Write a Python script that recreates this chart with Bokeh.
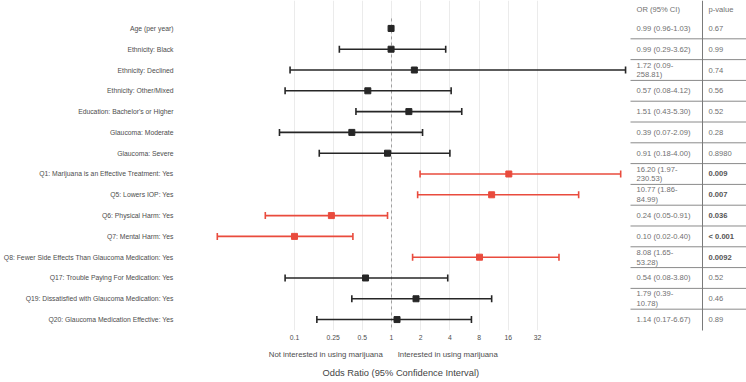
import math
from bokeh.plotting import figure
from bokeh.models import (Range1d, FixedTicker, CustomJSTickFormatter, LogAxis, Title,
                          ColumnDataSource, LinearScale)
from bokeh.core.properties import value
from bokeh.embed import file_html
from bokeh.resources import INLINE

# ---------------- data ----------------
labels = [
    "Age (per year)",
    "Ethnicity: Black",
    "Ethnicity: Declined",
    "Ethnicity: Other/Mixed",
    "Education: Bachelor's or Higher",
    "Glaucoma: Moderate",
    "Glaucoma: Severe",
    "Q1: Marijuana is an Effective Treatment: Yes",
    "Q5: Lowers IOP: Yes",
    "Q6: Physical Harm: Yes",
    "Q7: Mental Harm: Yes",
    "Q8: Fewer Side Effects Than Glaucoma Medication: Yes",
    "Q17: Trouble Paying For Medication: Yes",
    "Q19: Dissatisfied with Glaucoma Medication: Yes",
    "Q20: Glaucoma Medication Effective: Yes",
]
odds_ratio = [0.99, 0.99, 1.72, 0.57, 1.51, 0.39, 0.91, 16.20, 10.77, 0.24, 0.10, 8.08, 0.54, 1.79, 1.14]
ci_lower = [0.96, 0.29, 0.09, 0.08, 0.43, 0.07, 0.18, 1.97, 1.86, 0.05, 0.016, 1.65, 0.08, 0.39, 0.17]
ci_upper = [1.03, 3.62, 258.81, 4.12, 5.30, 2.09, 4.00, 230.53, 84.99, 0.91, 0.40, 53.28, 3.80, 10.78, 6.67]
p_values = ["0.67", "0.99", "0.74", "0.56", "0.52", "0.28", "0.8980", "0.009", "0.007",
            "0.036", "< 0.001", "0.0092", "0.52", "0.46", "0.89"]
x_ticks = [0.1, 0.25, 0.5, 1, 2, 4, 8, 16, 32]
direction_labels = ["Not interested in using marijuana", "Interested in using marijuana"]
direction_pos = [0.21, 3.8]
x_title = "Odds Ratio (95% Confidence Interval)"
table_headers = ["OR (95% CI)", "p-value"]

# ---------------- layout / style ----------------
W, H = 746, 382
FRAME_LEFT = 180          # px left of plotting frame (row labels)
FRAME_BOTTOM = 51         # px below frame (axes + title)
FOREST_RIGHT = 628        # px where the table block starts
ROW_PX = 20.86
FIRST_ROW_OFFSET = 28     # px from frame top to first row
PX_PER_DOUBLING = 29.2
ONE_OFFSET = 211          # px from frame left to OR = 1
TITLE_OFFSET = 142
RED = "#E94B3D"
BLACK = "#262626"
TXT = "#4d4d4d"
TBL_TXT = "#707070"
FONT = "Liberation Sans"

n = len(labels)
ys = [n - 1 - i for i in range(n)]
sig = [p.startswith("<") or float(p) < 0.05 for p in p_values]
colors = [RED if s else BLACK for s in sig]

frame_h = H - FRAME_BOTTOM
frame_w = W - FRAME_LEFT
y_top = (n - 1) + FIRST_ROW_OFFSET / ROW_PX
y_bot = y_top - frame_h / ROW_PX
x_lo = 2 ** (-ONE_OFFSET / PX_PER_DOUBLING)
x_hi = 2 ** ((frame_w - ONE_OFFSET) / PX_PER_DOUBLING)
tbl_w = W - FOREST_RIGHT

p = figure(width=W, height=H, x_axis_type="log",
           x_range=Range1d(x_lo, x_hi), y_range=Range1d(y_bot, y_top),
           extra_x_ranges={"tbl": Range1d(-(FOREST_RIGHT - FRAME_LEFT), tbl_w)},
           extra_x_scales={"tbl": LinearScale()},
           output_backend="svg", toolbar_location=None,
           min_border_left=FRAME_LEFT, min_border_right=0,
           min_border_top=0, min_border_bottom=FRAME_BOTTOM)
p.outline_line_color = None
p.ygrid.visible = False
p.xgrid.grid_line_color = "#ebebeb"
p.xgrid.grid_line_width = 1

ax = p.xaxis[0]
ax.ticker = FixedTicker(ticks=x_ticks, minor_ticks=[])
ax.formatter = CustomJSTickFormatter(code="return tick.toString();")
ax.axis_line_color = None
ax.major_tick_line_color = None
ax.minor_tick_line_color = None
ax.major_tick_out = 0
ax.major_label_standoff = 4
ax.major_label_text_font_size = "6.8px"
ax.major_label_text_color = TXT
ax.major_label_text_font = FONT

axb = LogAxis(ticker=FixedTicker(ticks=direction_pos, minor_ticks=[]),
              formatter=CustomJSTickFormatter(args=dict(names=direction_labels),
                                              code="return names[index];"))
axb.axis_line_color = None
axb.major_tick_line_color = None
axb.minor_tick_line_color = None
axb.major_tick_out = 0
axb.major_label_standoff = 7
axb.major_label_text_font_size = "7.8px"
axb.major_label_text_color = TXT
axb.major_label_text_font = FONT
p.add_layout(axb, "below")

p.add_layout(Title(text=x_title, align="left", offset=TITLE_OFFSET, standoff=9,
                   text_font_size="9.3px", text_font_style="normal",
                   text_color="#444444", text_font=FONT), "below")

yax = p.yaxis[0]
yax.ticker = FixedTicker(ticks=ys, minor_ticks=[])
yax.formatter = CustomJSTickFormatter(args=dict(names=list(reversed(labels))),
                                      code="return names[Math.round(tick)];")
yax.axis_line_color = None
yax.major_tick_line_color = None
yax.minor_tick_line_color = None
yax.major_tick_out = 0
yax.major_label_standoff = 7
yax.major_label_text_font_size = "6.8px"
yax.major_label_text_color = TXT
yax.major_label_text_font = FONT

# reference line at OR = 1
p.segment(x0=[1], x1=[1], y0=[y_top - 18 / ROW_PX], y1=[y_bot], line_color="#a0a0a0",
          line_dash="3 3", line_width=1)

src = ColumnDataSource(dict(y=ys, est=odds_ratio, lo=ci_lower, hi=ci_upper, color=colors))
p.segment(x0="lo", y0="y", x1="hi", y1="y", line_color="color", line_width=1.6, source=src)
for col in ("lo", "hi"):
    p.scatter(x=col, y="y", marker="dash", angle=math.pi / 2, size=7,
              line_color="color", line_width=1.6, source=src)
p.scatter(x="est", y="y", marker="square", size=6, fill_color="color",
          line_color="color", source=src)

# ---------------- table ----------------
def wrap(s, limit=16):
    if len(s) > limit:
        k = s.index("-") + 1
        return s[:k] + "\n" + s[k:]
    return s

or_text = [wrap(f"{e:.2f} ({l:.2f}-{h:.2f})") for e, l, h in zip(odds_ratio, ci_lower, ci_upper)]

COL1_X, COL2_X, SEP_X, RULE_X0 = 8, 80, 74, 2
HEADER_Y = y_top - 9 / ROW_PX

rule_y = [ys[i] - 0.5 for i in range(n - 1)]
p.segment(x0=RULE_X0, x1=tbl_w, y0=rule_y, y1=rule_y, line_color="#8a8a8a",
          line_width=1, x_range_name="tbl")
p.segment(x0=[SEP_X], x1=[SEP_X], y0=[y_top], y1=[ys[-1] - 1.0], line_color="#7a7a7a",
          line_width=1, x_range_name="tbl")

p.text(x=[COL1_X, COL2_X], y=[HEADER_Y, HEADER_Y], text=table_headers,
       text_font=value(FONT), text_font_size="7.6px", text_color=TBL_TXT,
       text_baseline="middle", text_align="left", x_range_name="tbl")
p.text(x=COL1_X, y=ys, text=or_text, text_font=value(FONT), text_font_size="7.6px",
       text_color=TBL_TXT, text_baseline="middle", text_align="left",
       text_line_height=1.1, x_range_name="tbl")
norm = [i for i in range(n) if not sig[i]]
bold = [i for i in range(n) if sig[i]]
p.text(x=COL2_X, y=[ys[i] for i in norm], text=[p_values[i] for i in norm],
       text_font=value(FONT), text_font_size="7.6px", text_color=TBL_TXT,
       text_baseline="middle", text_align="left", x_range_name="tbl")
p.text(x=COL2_X, y=[ys[i] for i in bold], text=[p_values[i] for i in bold],
       text_font=value(FONT), text_font_size="7.6px", text_color="#555555",
       text_font_style="bold", text_baseline="middle", text_align="left",
       x_range_name="tbl")

open("out.html", "w").write(file_html(p, INLINE))
